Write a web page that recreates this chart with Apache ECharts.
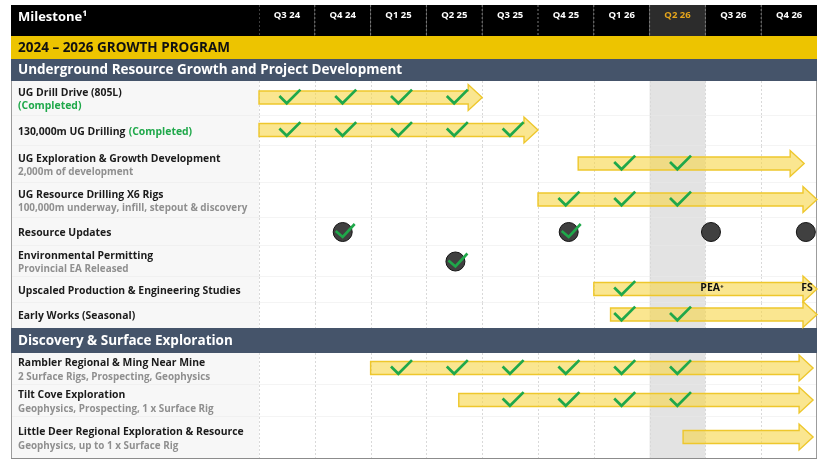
<!DOCTYPE html>
<html><head><meta charset="utf-8">
<script src="https://cdn.jsdelivr.net/npm/echarts@6/dist/echarts.min.js"></script>
<style>html,body{margin:0;padding:0;background:#fff}#c{width:826px;height:462px}</style>
</head><body><div id="c"></div>
<script>
// ---------------- DATA ----------------
const quarters = ['Q3 24','Q4 24','Q1 25','Q2 25','Q3 25','Q4 25','Q1 26','Q2 26','Q3 26','Q4 26'];
const currentQuarter = 'Q2 26';
const headerTitle = 'Milestone¹';

const rowTitles = [
  '2024 – 2026 GROWTH PROGRAM',
  'Underground Resource Growth and Project Development',
  'UG Drill Drive (805L)',
  '130,000m UG Drilling',
  'UG Exploration & Growth Development',
  'UG Resource Drilling X6 Rigs',
  'Resource Updates',
  'Environmental Permitting',
  'Upscaled Production & Engineering Studies',
  'Early Works (Seasonal)',
  'Discovery & Surface Exploration',
  'Rambler Regional & Ming Near Mine',
  'Tilt Cove Exploration',
  'Little Deer Regional Exploration & Resource'
];
const rowKinds = ['program','section','task','task','task','task','task','task','task','task','section','task','task','task'];
const rowSubtitles = ['','','','','2,000m of development','100,000m underway, infill, stepout & discovery','',
  'Provincial EA Released','','','','2 Surface Rigs, Prospecting, Geophysics',
  'Geophysics, Prospecting, 1 x Surface Rig','Geophysics, up to 1 x Surface Rig'];
const rowStatus = ['','','(Completed)','(Completed)','','','','','','','','','',''];

// arrows: row index, start (quarters from Q3 24), tip
const arrowRow   = [2, 3, 4,    5, 8, 9,   11,   12,   13];
const arrowStart = [0, 0, 5.72, 5, 6, 6.3, 2,    3.58, 7.6];
const arrowEnd   = [4, 5, 9.77, 10, 10, 10, 9.93, 9.93, 9.93];

// completed check marks: row index + quarter
const checkRow = [2,2,2,2, 3,3,3,3,3, 4,4, 5,5,5, 8, 9,9, 11,11,11,11,11,11, 12,12,12,12];
const checkQuarter = [
  'Q3 24','Q4 24','Q1 25','Q2 25',
  'Q3 24','Q4 24','Q1 25','Q2 25','Q3 25',
  'Q1 26','Q2 26',
  'Q4 25','Q1 26','Q2 26',
  'Q1 26',
  'Q1 26','Q2 26',
  'Q1 25','Q2 25','Q3 25','Q4 25','Q1 26','Q2 26',
  'Q3 25','Q4 25','Q1 26','Q2 26'
];

// milestone dots
const milestoneRow  = [6, 6, 6, 6, 7];
const milestonePos  = [1.5, 5.55, 8.1, 9.8, 3.52];
const milestoneDone = [true, true, false, false, true];

// study labels on the Upscaled Production row
const studyRow = [8, 8];
const studyLabels = ['PEA⁺', 'FS'];
const studyPos = [8.12, 9.82];

// ---------------- LAYOUT / STYLE ----------------
const rowHeights = [23,22,35,30,37,35,28,31,26,25,25,32,32,42];
const rowTop = [];
rowHeights.reduce((acc, h, i) => { rowTop[i] = acc; return acc + h; }, 0);
const totalH = rowHeights.reduce((a, b) => a + b, 0);
const statusOnNewLine = [2];
const LABEL_W = 248, HEADER_H = 31;
const FONT = "'Open Sans', 'Noto Sans', sans-serif";
const YELLOW = '#edc400', SLATE = '#45546a', HILITE = '#e3e3e3';
const GREEN = '#1fa84a';
const curIdx = quarters.indexOf(currentQuarter);

function checkPath(cx, cy, s) {
  return [[cx - 10*s, cy - 1*s], [cx - 3*s, cy + 6*s], [cx + 10*s, cy - 7*s]];
}

const chart = echarts.init(document.getElementById('c'), null, {renderer: 'canvas'});

function renderHeader(params, api) {
  const q = api.value(0);
  const cs = params.coordSys;
  const x0 = api.coord([q, 0])[0], x1 = api.coord([q + 1, 0])[0];
  const top = cs.y - HEADER_H;
  const ch = [];
  ch.push({type: 'rect', shape: {x: x0, y: top, width: x1 - x0, height: HEADER_H},
    style: {fill: q === curIdx ? '#2c2c2c' : '#000'}});
  ch.push({type: 'line', shape: {x1: x0, y1: top, x2: x0, y2: cs.y},
    style: {stroke: '#7a7a7a', lineWidth: 1, lineDash: [2, 2]}});
  if (q === 0) {
    ch.push({type: 'rect', shape: {x: cs.x - LABEL_W, y: top, width: LABEL_W, height: HEADER_H}, style: {fill: '#000'}});
    ch.push({type: 'text', style: {x: cs.x - LABEL_W + 7, y: top + 12, text: headerTitle,
      fill: '#fff', font: 'bold 13px ' + FONT, verticalAlign: 'middle'}});
  }
  return {type: 'group', children: ch};
}

function renderRow(params, api) {
  const i = api.value(0);
  const cs = params.coordSys;
  const top = api.coord([0, rowTop[i]])[1];
  const bottom = api.coord([0, rowTop[i] + rowHeights[i]])[1];
  const left = cs.x - LABEL_W, right = cs.x + cs.width;
  const mid = (top + bottom) / 2;
  const kind = rowKinds[i];
  const ch = [];
  if (kind !== 'task') {
    ch.push({type: 'rect', shape: {x: left, y: top, width: right - left, height: bottom - top},
      style: {fill: kind === 'program' ? YELLOW : SLATE}});
    ch.push({type: 'text', style: {x: left + 7, y: mid + 0.5, text: rowTitles[i],
      fill: kind === 'program' ? '#111' : '#fff',
      font: 'bold 13.5px ' + FONT, verticalAlign: 'middle'}});
  } else {
    ch.push({type: 'rect', shape: {x: left, y: top, width: LABEL_W, height: bottom - top}, style: {fill: '#f7f7f7'}});
    ch.push({type: 'rect', shape: {x: cs.x, y: top, width: cs.width, height: bottom - top}, style: {fill: '#fff'}});
    const hx0 = api.coord([curIdx, 0])[0], hx1 = api.coord([curIdx + 1, 0])[0];
    ch.push({type: 'rect', shape: {x: hx0, y: top, width: hx1 - hx0, height: bottom - top}, style: {fill: HILITE}});
    for (let q = 0; q < quarters.length; q++) {
      const x = Math.round(api.coord([q, 0])[0]) + 0.5;
      ch.push({type: 'line', shape: {x1: x, y1: top, x2: x, y2: bottom},
        style: {stroke: '#d9d9d9', lineWidth: 1, lineDash: [2, 2]}});
    }
    if (i + 1 < rowKinds.length && rowKinds[i + 1] === 'task') {
      ch.push({type: 'line', shape: {x1: left, y1: bottom, x2: right, y2: bottom},
        style: {stroke: '#e9e9e9', lineWidth: 1}});
    }
    let txt = '{t|' + rowTitles[i] + '}';
    if (rowStatus[i]) txt += (statusOnNewLine.includes(i) ? '\n' : ' ') + '{g|' + rowStatus[i] + '}';
    if (rowSubtitles[i]) txt += '\n{s|' + rowSubtitles[i] + '}';
    ch.push({type: 'text', style: {x: left + 7, y: mid + 1, text: txt, verticalAlign: 'middle',
      rich: {
        t: {fill: '#1b1b1b', fontFamily: FONT, fontWeight: 'bold', fontSize: 10.4, lineHeight: 13.5},
        g: {fill: GREEN, fontFamily: FONT, fontWeight: 'bold', fontSize: 10.4, lineHeight: 13.5},
        s: {fill: '#8f8f8f', fontFamily: FONT, fontWeight: 'bold', fontSize: 9.9, lineHeight: 13.5}
      }}});
    ch.push({type: 'line', shape: {x1: left + 0.5, y1: top, x2: left + 0.5, y2: bottom}, style: {stroke: '#9c9c9c', lineWidth: 1}});
    ch.push({type: 'line', shape: {x1: right - 0.5, y1: top, x2: right - 0.5, y2: bottom}, style: {stroke: '#9c9c9c', lineWidth: 1}});
    if (i === rowKinds.length - 1) {
      ch.push({type: 'line', shape: {x1: left, y1: bottom - 0.5, x2: right, y2: bottom - 0.5}, style: {stroke: '#8c8c8c', lineWidth: 1.2}});
    }
  }
  return {type: 'group', children: ch};
}

function rowCenter(api, r) {
  return api.coord([0, rowTop[r] + rowHeights[r] / 2])[1];
}

function renderArrow(params, api) {
  const r = api.value(0);
  const x0 = api.coord([api.value(1), 0])[0];
  const x1 = api.coord([api.value(2), 0])[0];
  const y = rowCenter(api, r) - 1;
  const bh = 6.5, hh = 13, hl = 14;
  return {type: 'polygon', shape: {points: [
      [x0, y - bh], [x1 - hl, y - bh], [x1 - hl, y - hh], [x1, y],
      [x1 - hl, y + hh], [x1 - hl, y + bh], [x0, y + bh]]},
    style: {fill: 'rgba(246,214,70,0.6)', stroke: '#eec72c', lineWidth: 1.4}};
}

function renderCheck(params, api) {
  const r = api.value(0);
  const q = api.value(1);
  const cx = api.coord([q + 0.5, 0])[0] + 3;
  const cy = rowCenter(api, r) - 1.5;
  return {type: 'polyline', shape: {points: checkPath(cx, cy, 1.05)},
    style: {stroke: GREEN, lineWidth: 2.7, fill: null, lineJoin: 'miter'}};
}

function renderMilestone(params, api) {
  const r = api.value(0);
  const cx = api.coord([api.value(1), 0])[0];
  const cy = rowCenter(api, r);
  const ch = [{type: 'circle', shape: {cx: cx, cy: cy, r: 9.5},
    style: {fill: '#404040', stroke: '#141414', lineWidth: 1}}];
  if (api.value(2)) {
    ch.push({type: 'polyline', shape: {points: [[cx - 7, cy - 1], [cx, cy + 5], [cx + 12, cy - 8]]},
      style: {stroke: GREEN, lineWidth: 2.6, fill: null}});
  }
  return {type: 'group', children: ch};
}

function renderStudy(params, api) {
  const idx = params.dataIndex;
  const x = api.coord([api.value(1), 0])[0];
  const y = rowCenter(api, api.value(0)) - 2;
  return {type: 'text', style: {x: x, y: y, text: studyLabels[idx], fill: '#111',
    font: 'bold 10.5px ' + FONT, align: 'center', verticalAlign: 'middle'}};
}

const option = {
  animation: false,
  backgroundColor: '#fff',
  grid: {left: 259, right: 9, top: 36, bottom: 3},
  xAxis: [
    {type: 'category', position: 'top', z: 10,
     data: quarters.map(q => q === currentQuarter ? {value: q, textStyle: {color: '#e5a51c'}} : q),
     axisLine: {show: false}, axisTick: {show: false}, splitLine: {show: false},
     axisLabel: {color: '#fff', fontWeight: 'bold', fontSize: 9.5, fontFamily: FONT, margin: 16}},
    {type: 'value', min: 0, max: quarters.length, show: false}
  ],
  yAxis: {type: 'value', inverse: true, min: 0, max: totalH, show: false},
  series: [
    {type: 'custom', name: 'header', xAxisIndex: 1, z: 1, clip: false,
     data: quarters.map((q, i) => [i]), renderItem: renderHeader},
    {type: 'custom', name: 'rows', xAxisIndex: 1, z: 1, clip: false,
     data: rowTitles.map((t, i) => [i]), renderItem: renderRow},
    {type: 'custom', name: 'arrows', xAxisIndex: 1, z: 3, clip: false,
     data: arrowRow.map((r, i) => [r, arrowStart[i], arrowEnd[i]]), renderItem: renderArrow},
    {type: 'custom', name: 'milestones', xAxisIndex: 1, z: 4, clip: false,
     data: milestoneRow.map((r, i) => [r, milestonePos[i], milestoneDone[i] ? 1 : 0]), renderItem: renderMilestone},
    {type: 'custom', name: 'checks', xAxisIndex: 1, z: 5, clip: false,
     data: checkRow.map((r, i) => [r, quarters.indexOf(checkQuarter[i])]), renderItem: renderCheck},
    {type: 'custom', name: 'studies', xAxisIndex: 1, z: 6, clip: false,
     data: studyRow.map((r, i) => [r, studyPos[i]]), renderItem: renderStudy}
  ]
};
chart.setOption(option);
</script></body></html>
